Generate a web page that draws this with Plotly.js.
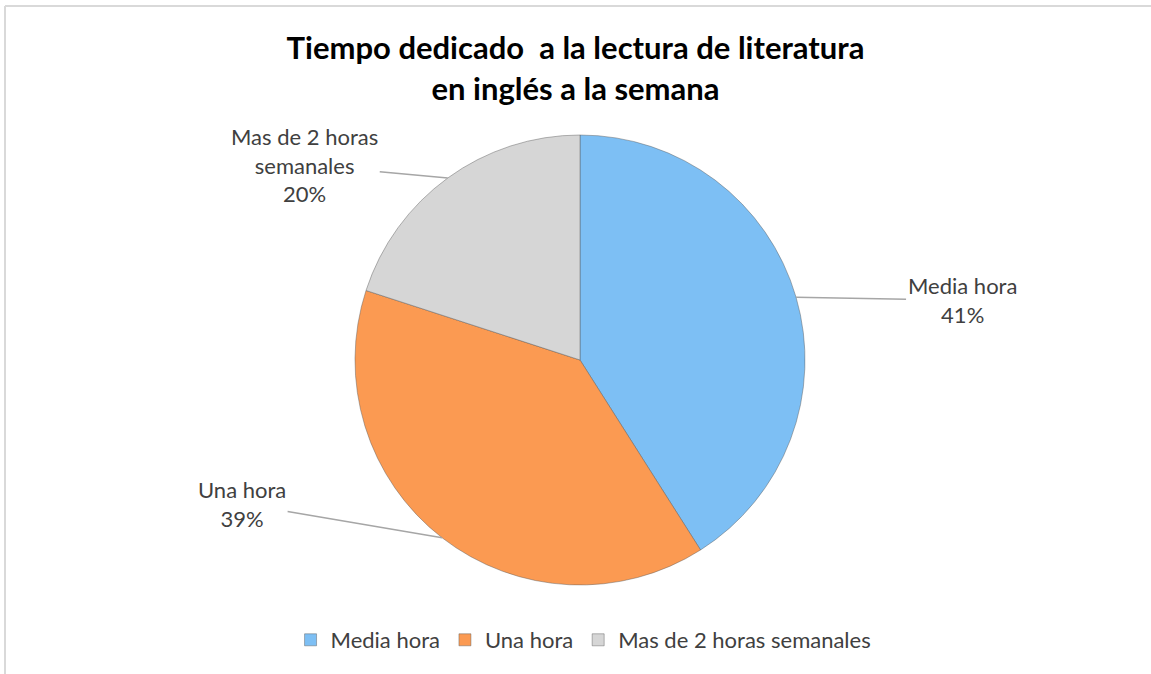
<!DOCTYPE html>
<html>
<head>
<meta charset="utf-8">
<script src="https://cdn.plot.ly/plotly-3.0.1.min.js"></script>
<style>
  body { margin: 0; background: #fff; }
  #chart { width: 1151px; height: 674px; }
</style>
</head>
<body>
<div id="chart"></div>
<script>
var categorias = ['Media hora', 'Una hora', 'Mas de 2 horas semanales'];
var etiquetas = ['Media hora', 'Una hora', 'Mas de 2 horas<br>semanales'];
var porcentajes = [41, 39, 20];
var colores = ['#7dbff4', '#fb9a52', '#d6d6d6'];

var W = 1151, H = 674;
// pie placement (pixels)
var cx = 580, cy = 360, r = 225;

var dom = {
  x: [(cx - r) / W, (cx + r) / W],
  y: [1 - (cy + r) / H, 1 - (cy - r) / H]
};

// label offsets from the slice edge, in pixels
var offsets = [[166, 3], [-200, -34], [-143, -13]];

var total = porcentajes.reduce(function (a, b) { return a + b; }, 0);
var anotaciones = [];
var acum = 0;
for (var i = 0; i < porcentajes.length; i++) {
  var mid = (acum + porcentajes[i] / 2) / total * 2 * Math.PI;
  acum += porcentajes[i];
  anotaciones.push({
    xref: 'paper', yref: 'paper',
    x: (cx + r * Math.sin(mid)) / W,
    y: 1 - (cy - r * Math.cos(mid)) / H,
    text: etiquetas[i] + '<br>' + Math.round(porcentajes[i] / total * 100) + '%',
    showarrow: true,
    arrowhead: 0,
    arrowwidth: 1.5,
    arrowcolor: '#a6a6a6',
    ax: offsets[i][0],
    ay: offsets[i][1],
    font: { family: 'Lato, sans-serif', size: 22, color: '#404040' },
    align: 'center'
  });
}

var data = [{
  type: 'pie',
  labels: categorias,
  values: porcentajes,
  sort: false,
  direction: 'clockwise',
  rotation: 0,
  textinfo: 'none',
  hoverinfo: 'label+percent',
  domain: dom,
  marker: { colors: colores, line: { color: 'rgba(90,90,90,0.45)', width: 1 } }
}];

var layout = {
  width: W,
  height: H,
  margin: { l: 0, r: 0, t: 0, b: 0 },
  paper_bgcolor: '#ffffff',
  title: {
    text: '<b>Tiempo dedicado  a la lectura de literatura<br>en inglés a la semana</b>',
    font: { family: 'Lato, sans-serif', size: 31, color: '#000000' },
    x: 0.5, xanchor: 'center',
    y: 0.912, yanchor: 'middle'
  },
  showlegend: true,
  legend: {
    orientation: 'h',
    x: 0.507, xanchor: 'center',
    y: 1 - 640 / H, yanchor: 'middle',
    font: { family: 'Lato, sans-serif', size: 22, color: '#404040' },
    itemwidth: 30,
    traceorder: 'normal'
  },
  annotations: anotaciones,
  shapes: [
    { type: 'line', xref: 'paper', yref: 'paper', x0: 5 / W, x1: 1, y0: 1 - 6 / H, y1: 1 - 6 / H,
      line: { color: '#d9d9d9', width: 2 } },
    { type: 'line', xref: 'paper', yref: 'paper', x0: 5 / W, x1: 5 / W, y0: 0, y1: 1 - 6 / H,
      line: { color: '#d9d9d9', width: 2 } }
  ]
};

Plotly.newPlot('chart', data, layout, { displayModeBar: false });
</script>
</body>
</html>
